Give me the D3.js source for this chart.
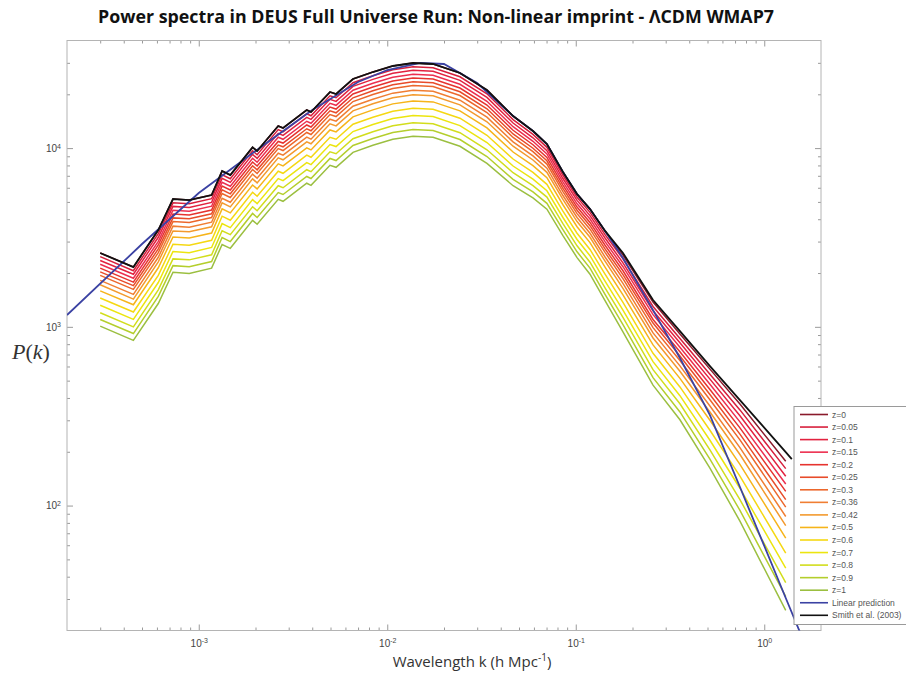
<!DOCTYPE html>
<html>
<head>
<meta charset="utf-8">
<script src="https://cdn.jsdelivr.net/npm/d3@7"></script>
<style>
  body { margin: 0; background: #fff; }
</style>
</head>
<body>
<svg id="chart" width="906" height="677"></svg>
<script>
// wavenumbers of the simulation bins (h/Mpc)
const kValues = [3.0e-4, 4.5e-4, 6.1e-4, 7.3e-4, 8.9e-4, 1.17e-3, 1.33e-3, 1.47e-3, 1.93e-3, 2.04e-3,
  2.64e-3, 2.8e-3, 3.74e-3, 3.94e-3, 4.97e-3, 5.35e-3, 6.58e-3, 8.39e-3, 1.07e-2, 1.37e-2,
  1.75e-2, 2.43e-2, 3.38e-2, 4.65e-2, 5.93e-2, 7.03e-2, 8.55e-2, 0.1016, 0.119, 0.143,
  0.178, 0.257, 0.357, 0.515, 0.743, 1.30];

const redshifts = ["0", "0.05", "0.1", "0.15", "0.2", "0.25", "0.3", "0.36", "0.42", "0.5", "0.6", "0.7", "0.8", "0.9", "1"];

// P(k), one array per redshift
const pZ000 = [2590, 2160, 3480, 5190, 5120, 5460, 7440, 7070, 10100, 9630, 13300, 12950, 16340, 15920, 20600, 20070, 24360, 26650, 28800, 29940, 29550, 26310, 21140, 15120, 12460, 10540, 7350, 5530, 4560, 3440, 2520, 1376, 911, 580, 370, 177];
const pZ005 = [2470, 2060, 3320, 4940, 4880, 5210, 7090, 6740, 9660, 9180, 12700, 12340, 15570, 15170, 19630, 19130, 23210, 25400, 27440, 28520, 28160, 25070, 20140, 14440, 11930, 10100, 7050, 5310, 4370, 3280, 2400, 1300, 861, 543, 343, 161];
const pZ010 = [2350, 1970, 3170, 4720, 4660, 4970, 6770, 6430, 9230, 8760, 12100, 11790, 14870, 14490, 18740, 18260, 22160, 24250, 26200, 27240, 26890, 23940, 19230, 13810, 11420, 9680, 6760, 5100, 4190, 3140, 2280, 1230, 815, 510, 318, 146];
const pZ015 = [2240, 1870, 3010, 4490, 4430, 4730, 6440, 6120, 8770, 8330, 11500, 11200, 14130, 13770, 17820, 17360, 21070, 23060, 24910, 25890, 25560, 22760, 18280, 13180, 10920, 9270, 6480, 4880, 4010, 3000, 2170, 1170, 769, 477, 294, 132];
const pZ020 = [2130, 1780, 2870, 4280, 4220, 4500, 6130, 5830, 8360, 7940, 10900, 10670, 13470, 13120, 16970, 16540, 20070, 21970, 23730, 24670, 24350, 21680, 17420, 12580, 10440, 8870, 6210, 4680, 3840, 2860, 2060, 1100, 726, 446, 272, 120];
const pZ025 = [2030, 1700, 2730, 4070, 4020, 4290, 5840, 5550, 7960, 7560, 10400, 10170, 12830, 12500, 16170, 15760, 19120, 20930, 22610, 23500, 23200, 20660, 16600, 12000, 9980, 8490, 5950, 4490, 3680, 2730, 1960, 1050, 686, 418, 251, 108];
const pZ030 = [1940, 1620, 2600, 3880, 3830, 4090, 5570, 5290, 7590, 7210, 9940, 9690, 12230, 11910, 15410, 15020, 18220, 19940, 21550, 22400, 22110, 19690, 15810, 11470, 9550, 8140, 5710, 4300, 3520, 2610, 1860, 990, 648, 391, 233, 98.1];
const pZ036 = [1820, 1520, 2450, 3660, 3610, 3850, 5240, 4980, 7150, 6790, 9360, 9130, 11510, 11220, 14510, 14150, 17160, 18780, 20300, 21100, 20820, 18540, 14890, 10830, 9050, 7720, 5430, 4090, 3340, 2460, 1750, 925, 605, 361, 211, 86.9];
const pZ042 = [1720, 1430, 2310, 3440, 3400, 3630, 4940, 4690, 6730, 6390, 8820, 8600, 10840, 10570, 13670, 13320, 16160, 17690, 19110, 19870, 19610, 17460, 14030, 10250, 8580, 7320, 5160, 3880, 3170, 2330, 1640, 866, 564, 334, 193, 77.2];
const pZ050 = [1590, 1330, 2140, 3180, 3140, 3350, 4570, 4340, 6220, 5910, 8160, 7950, 10030, 9770, 12640, 12320, 14950, 16360, 17680, 18370, 18140, 16150, 12970, 9510, 7980, 6830, 4820, 3630, 2960, 2160, 1510, 792, 515, 300, 170, 65.8];
const pZ060 = [1450, 1210, 1940, 2900, 2860, 3050, 4160, 3950, 5660, 5380, 7420, 7230, 9130, 8890, 11500, 11210, 13600, 14890, 16080, 16720, 16500, 14700, 11800, 8690, 7320, 6270, 4440, 3340, 2710, 1970, 1370, 711, 461, 264, 146, 54.2];
const pZ070 = [1320, 1100, 1770, 2640, 2600, 2780, 3780, 3590, 5150, 4890, 6750, 6580, 8300, 8090, 10470, 10200, 12380, 13550, 14640, 15210, 15020, 13370, 10740, 7940, 6710, 5770, 4090, 3080, 2500, 1800, 1240, 639, 412, 232, 125, 44.7];
const pZ080 = [1200, 1000, 1610, 2400, 2370, 2530, 3450, 3280, 4700, 4460, 6160, 6000, 7570, 7380, 9540, 9300, 11290, 12350, 13350, 13870, 13690, 12190, 9790, 7280, 6170, 5320, 3780, 2840, 2300, 1650, 1130, 576, 371, 205, 108, 37.1];
const pZ090 = [1100, 917, 1480, 2200, 2170, 2320, 3160, 3000, 4310, 4090, 5640, 5500, 6940, 6760, 8750, 8520, 10340, 11320, 12230, 12710, 12550, 11170, 8970, 6690, 5690, 4910, 3500, 2630, 2130, 1520, 1030, 520, 334, 182, 94.1, 31.0];
const pZ100 = [1010, 840, 1350, 2020, 1990, 2130, 2890, 2750, 3940, 3750, 5170, 5040, 6360, 6190, 8010, 7810, 9470, 10370, 11200, 11640, 11500, 10240, 8220, 6160, 5260, 4550, 3240, 2440, 1970, 1400, 937, 472, 302, 162, 81.9, 25.9];

// linear prediction
const linK = [2e-4, 5e-4, 1e-3, 2e-3, 4e-3, 7e-3, 1e-2, 1.5e-2, 2e-2, 3e-2, 4.65e-2, 5.93e-2, 7.03e-2, 8.55e-2, 0.1016, 0.119, 0.143, 0.178, 0.257, 0.357, 0.515, 0.743, 1.30, 2.0];
const linP = [1164, 2906, 5605, 9630, 16340, 23430, 27350, 29940, 29550, 23130, 15120, 12460, 10540, 7350, 5530, 4560, 3440, 2426, 1241, 669, 321, 127, 30.4, 10.2];

// Smith et al. (2003)
const smithK = kValues.concat([1.40]);
const smithP = [2590, 2160, 3480, 5190, 5120, 5460, 7440, 7070, 10100, 9630, 13300, 12950, 16340, 15920, 20600, 20070, 24360, 26650, 28800, 29940, 29550, 26310, 21140, 15120, 12460, 10540, 7350, 5530, 4560, 3440, 2590, 1412, 947, 603, 389, 199, 182];

const xTicks = [1e-3, 1e-2, 1e-1, 1];
const yTicks = [1e2, 1e3, 1e4];

const zColors = ["#8a1a2b", "#d71f3c", "#e2223f", "#ec2f4f", "#e6332f", "#e84c2a", "#ec672c", "#f07e33",
  "#f39a2e", "#f6b41a", "#f5d812", "#ece50f", "#d2dd1c", "#b4ce2c", "#9bbf40"];

const zSeries = [pZ000, pZ005, pZ010, pZ015, pZ020, pZ025, pZ030, pZ036, pZ042, pZ050, pZ060, pZ070, pZ080, pZ090, pZ100];

const svg = d3.select("#chart");
const plotLeft = 67, plotRight = 821, plotTop = 40.5, plotBottom = 630.5;

const x = d3.scaleLog().domain([2e-4, 2]).range([plotLeft, plotRight]);
const y = d3.scaleLog().domain([20, 4e4]).range([plotBottom, plotTop]);

svg.append("defs").append("clipPath").attr("id", "plot")
  .append("rect").attr("x", plotLeft).attr("y", plotTop)
  .attr("width", plotRight - plotLeft).attr("height", plotBottom - plotTop);

// minor tick positions (2..9 per decade)
const minorX = [], minorY = [];
for (let e = -4; e <= 0; e++) for (let m = 2; m <= 9; m++) {
  const v = m * Math.pow(10, e);
  if (v > 2e-4 && v < 2) minorX.push(v);
}
for (let e = 1; e <= 4; e++) for (let m = 2; m <= 9; m++) {
  const v = m * Math.pow(10, e);
  if (v > 20 && v < 4e4) minorY.push(v);
}

const axisColor = "#9a9a9a";
function styleAxis(g) {
  g.select(".domain").remove();
  g.selectAll(".tick line").attr("stroke", axisColor);
}

// minor ticks on all four sides
svg.append("g").attr("transform", `translate(0,${plotBottom})`)
  .call(d3.axisBottom(x).tickValues(minorX).tickSize(-3).tickFormat("")).call(styleAxis);
svg.append("g").attr("transform", `translate(0,${plotTop})`)
  .call(d3.axisTop(x).tickValues(minorX).tickSize(-3).tickFormat("")).call(styleAxis);
svg.append("g").attr("transform", `translate(${plotLeft},0)`)
  .call(d3.axisLeft(y).tickValues(minorY).tickSize(-3).tickFormat("")).call(styleAxis);
svg.append("g").attr("transform", `translate(${plotRight},0)`)
  .call(d3.axisRight(y).tickValues(minorY).tickSize(-3).tickFormat("")).call(styleAxis);

// major ticks
const xAxis = svg.append("g").attr("transform", `translate(0,${plotBottom})`)
  .call(d3.axisBottom(x).tickValues(xTicks).tickSize(-6).tickPadding(9).tickFormat(""))
  .call(styleAxis);
svg.append("g").attr("transform", `translate(0,${plotTop})`)
  .call(d3.axisTop(x).tickValues(xTicks).tickSize(-6).tickFormat("")).call(styleAxis);
const yAxis = svg.append("g").attr("transform", `translate(${plotLeft},0)`)
  .call(d3.axisLeft(y).tickValues(yTicks).tickSize(-6).tickPadding(6).tickFormat(""))
  .call(styleAxis);
svg.append("g").attr("transform", `translate(${plotRight},0)`)
  .call(d3.axisRight(y).tickValues(yTicks).tickSize(-6).tickFormat("")).call(styleAxis);

function powLabel(sel) {
  sel.each(function(d) {
    const t = d3.select(this);
    t.text("10").attr("font-family", "'Liberation Sans', Arial, sans-serif")
      .attr("font-size", 10).attr("fill", "#444");
    t.append("tspan").attr("dy", "-0.45em").attr("font-size", 7).text(Math.round(Math.log10(d)));
  });
}
xAxis.selectAll(".tick text").call(powLabel);
yAxis.selectAll(".tick text").call(powLabel);

// frame
svg.append("rect").attr("x", plotLeft).attr("y", plotTop)
  .attr("width", plotRight - plotLeft).attr("height", plotBottom - plotTop)
  .attr("fill", "none").attr("stroke", "#b4b4b4").attr("stroke-width", 1);

const line = d3.line().x(d => x(d[0])).y(d => y(d[1]));
const plot = svg.append("g").attr("clip-path", "url(#plot)").attr("fill", "none");

plot.selectAll("path.z")
  .data(zSeries)
  .join("path")
    .attr("class", "z")
    .attr("stroke", (d, i) => zColors[i])
    .attr("stroke-width", 1.5)
    .attr("d", d => line(d.map((p, i) => [kValues[i], p])));

plot.append("path")
  .attr("stroke", "#3b42a3").attr("stroke-width", 1.8)
  .attr("d", line(linK.map((k, i) => [k, linP[i]])));

plot.append("path")
  .attr("stroke", "#111").attr("stroke-width", 1.8)
  .attr("d", line(smithK.map((k, i) => [k, smithP[i]])));

// legend
const legendItems = redshifts.map((z, i) => ({ label: "z=" + z, color: zColors[i] }))
  .concat([{ label: "Linear prediction", color: "#3b42a3" }, { label: "Smith et al. (2003)", color: "#111" }]);

const legend = svg.append("g").attr("transform", "translate(794,406.5)");
legend.append("rect").attr("width", 130).attr("height", 218)
  .attr("fill", "#fff").attr("stroke", "#9a9a9a");
const item = legend.selectAll("g")
  .data(legendItems)
  .join("g")
    .attr("transform", (d, i) => `translate(0,${8 + i * 12.55})`);
item.append("line").attr("x1", 6).attr("x2", 34)
  .attr("stroke", d => d.color).attr("stroke-width", 1.6);
item.append("text").attr("x", 38).attr("y", 3)
  .attr("font-family", "'Liberation Sans', Arial, sans-serif").attr("font-size", 8.5)
  .attr("fill", "#555").text(d => d.label);

// title and axis labels
svg.append("text").attr("x", 436).attr("y", 23).attr("text-anchor", "middle")
  .attr("font-family", "'Liberation Sans Narrow', 'Open Sans', sans-serif")
  .attr("font-weight", "bold").attr("font-size", 17).attr("fill", "#111")
  .attr("textLength", 676).attr("lengthAdjust", "spacingAndGlyphs")
  .text("Power spectra in DEUS Full Universe Run: Non-linear imprint - \u039BCDM WMAP7");

const xl = svg.append("text").attr("x", 472).attr("y", 667).attr("text-anchor", "middle")
  .attr("font-family", "'Liberation Sans Narrow', 'Open Sans', sans-serif")
  .attr("font-size", 15).attr("fill", "#333");
xl.append("tspan").text("Wavelength k (h Mpc");
xl.append("tspan").attr("dy", -6).attr("font-size", 10).text("-1");
xl.append("tspan").attr("dy", 6).text(")");

const yl = svg.append("text").attr("x", 12).attr("y", 359)
  .attr("font-family", "'Liberation Serif', 'DejaVu Serif', serif")
  .attr("font-size", 22).attr("fill", "#333");
yl.append("tspan").attr("font-style", "italic").text("P");
yl.append("tspan").text("(");
yl.append("tspan").attr("font-style", "italic").text("k");
yl.append("tspan").text(")");
</script>
</body>
</html>
